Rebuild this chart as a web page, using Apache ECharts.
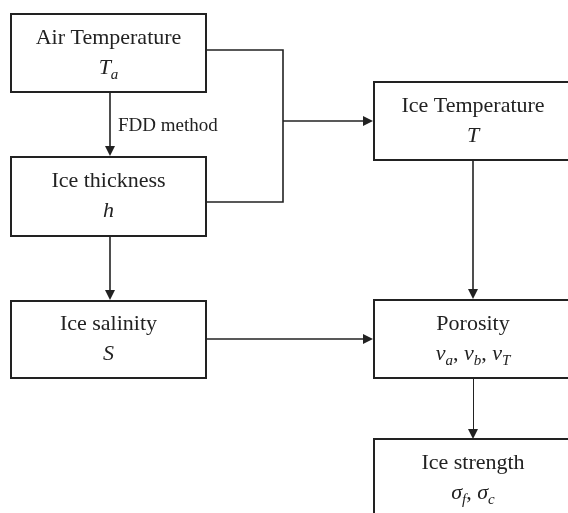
<!DOCTYPE html>
<html>
<head>
<meta charset="utf-8">
<script src="https://cdn.jsdelivr.net/npm/echarts@6/dist/echarts.min.js"></script>
<style>
    html, body { margin: 0; padding: 0; background: #fff; }
    #chart { width: 568px; height: 513px; }
</style>
</head>
<body>
<div id="chart"></div>
<script>
// boxes of the flow chart (drawn in a hidden 0..568 / 0..513 cartesian frame)
const boxNames = ['Air Temperature', 'Ice thickness', 'Ice salinity', 'Ice Temperature', 'Porosity', 'Ice strength'];
const boxSymbols = [
    '{i|T}{s|a}',
    '{i|h}',
    '{i|S}',
    '{i|T}',
    '{i|v}{s|a}{t|, }{i|v}{s|b}{t|, }{i|v}{s|T}',
    '{i|σ}{s|f}{t|, }{i|σ}{s|c}'
];
const boxLeft = [11, 11, 11, 374, 374, 374];
const boxTop = [14, 157, 301, 82, 300, 439];
const boxRight = [206, 206, 206, 572, 572, 572];
const boxBottom = [92, 236, 378, 160, 378, 517];

// arrows: [from, to]
const arrowFrom = [[110, 92], [283, 121], [110, 236], [206, 339], [473, 160], [473, 378]];
const arrowTo = [[110, 151], [368, 121], [110, 295], [368, 339], [473, 294], [473, 434]];
const arrowWidth = [1.6, 1.6, 1.6, 1.6, 1.6, 1];

// bracket joining air temperature and ice thickness
const bracketPath = [[206, 50], [283, 50], [283, 202], [206, 202]];

// side note
const noteText = ['FDD method'];
const notePos = [[118, 126]];

const LINE = '#222';
const SERIF = '"Liberation Serif", "Times New Roman", serif';

const richText = {
    t: { font: '22px ' + SERIF, fill: LINE },
    i: { font: 'italic 22px ' + SERIF, fill: LINE },
    s: { font: 'italic 15px ' + SERIF, fill: LINE, verticalAlign: 'bottom' }
};

let myChart = echarts.init(document.getElementById('chart'));

myChart.setOption({
    animation: false,
    grid: { left: 0, right: 0, top: 0, bottom: 0 },
    xAxis: { type: 'value', min: 0, max: 568, show: false },
    yAxis: { type: 'value', min: 0, max: 513, inverse: true, show: false },
    series: [
        {
            type: 'custom',
            coordinateSystem: 'cartesian2d',
            clip: false,
            data: boxNames.map(function (name, i) {
                return [boxLeft[i], boxTop[i], boxRight[i], boxBottom[i]];
            }),
            renderItem: function (params, api) {
                const i = params.dataIndex;
                const p0 = api.coord([api.value(0), api.value(1)]);
                const p1 = api.coord([api.value(2), api.value(3)]);
                return {
                    type: 'group',
                    children: [
                        {
                            type: 'rect',
                            shape: { x: p0[0], y: p0[1], width: p1[0] - p0[0], height: p1[1] - p0[1] },
                            style: { fill: '#fff', stroke: LINE, lineWidth: 2 }
                        },
                        {
                            type: 'text',
                            x: (p0[0] + p1[0]) / 2,
                            y: (p0[1] + p1[1]) / 2,
                            style: {
                                text: '{t|' + boxNames[i] + '}\n' + boxSymbols[i],
                                align: 'center',
                                verticalAlign: 'middle',
                                lineHeight: 30,
                                font: '22px ' + SERIF,
                                fill: LINE,
                                rich: richText
                            }
                        }
                    ]
                };
            }
        },
        {
            type: 'lines',
            coordinateSystem: 'cartesian2d',
            polyline: true,
            symbol: 'none',
            lineStyle: { color: LINE, width: 1.6, opacity: 1 },
            data: [{ coords: bracketPath }]
        },
        {
            type: 'lines',
            coordinateSystem: 'cartesian2d',
            symbol: ['none', 'triangle'],
            symbolSize: [10, 10],
            lineStyle: { color: LINE, width: 1.6, opacity: 1 },
            data: arrowFrom.map(function (p, i) {
                return { coords: [p, arrowTo[i]], lineStyle: { width: arrowWidth[i] } };
            })
        },
        {
            type: 'scatter',
            symbolSize: 0,
            silent: true,
            itemStyle: { opacity: 1 },
            label: {
                show: true,
                position: 'right',
                distance: 0,
                formatter: '{b}',
                fontFamily: SERIF,
                fontSize: 19,
                color: LINE,
                opacity: 1
            },
            data: noteText.map(function (name, i) {
                return { name: name, value: notePos[i] };
            })
        }
    ]
});
</script>
</body>
</html>
